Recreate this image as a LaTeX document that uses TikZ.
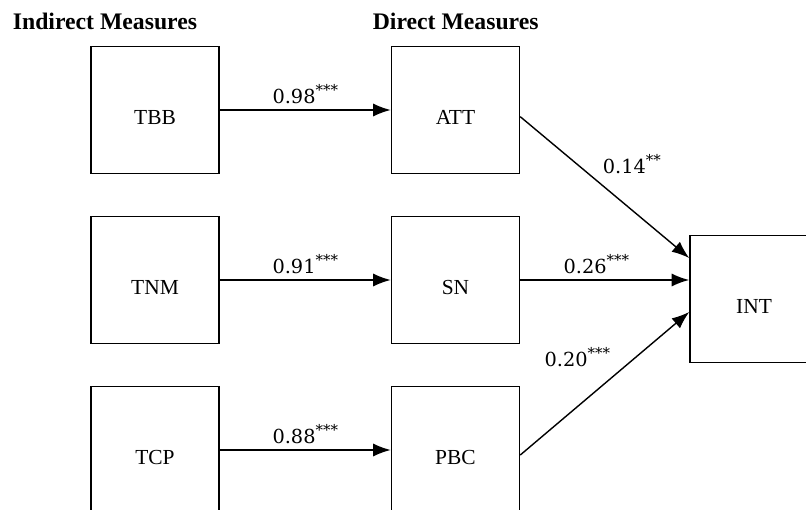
\documentclass[tikz,border=0pt]{standalone}
\usepackage{fontspec}
\setmainfont{Liberation Serif}
\newfontfamily\labfont{DejaVu Serif}
\usepackage{tikz}
\usetikzlibrary{arrows.meta}
\usetikzlibrary{calc}
\newcommand{\stars}[1]{\raisebox{0.42em}{\fontsize{8.5}{9}\selectfont #1}}
\tikzstyle{measure} = [draw,line width=0.9pt,minimum width=2.56cm,minimum height=2.54cm,text height=17pt,text depth=0pt,inner sep=0pt,font=\fontsize{12.2}{14}\selectfont]
\tikzstyle{title} = [anchor=base west,inner sep=0pt,font=\fontsize{13.5}{15}\selectfont\bfseries]
\tikzstyle{coef} = [font=\fontsize{11}{13}\selectfont\labfont]
\tikzstyle{path} = [->,line width=0.8pt]

\begin{document}
\begin{tikzpicture}[x=0.02cm,y=-0.02cm,>={Latex[length=3.5mm,width=2.6mm]}]
    \clip (0,0) rectangle (806,510);

% Headings
    \node[title] at (12.5,29.3) (indirect) {Indirect Measures};
    \node[title] at (372.5,29.3) (direct) {Direct Measures};

% Draw blocks
    \def\dx{300.5}
    \def\dy{170}
    \node[measure] at (155,110) (tbb) {TBB};
    \node[measure] at (155,110+\dy) (tnm) {TNM};
    \node[measure] at (155,110+2*\dy) (tcp) {TCP};
    \node[measure] at (155+\dx,110) (att) {ATT};
    \node[measure] at (155+\dx,110+\dy) (sn) {SN};
    \node[measure] at (155+\dx,110+2*\dy) (pbc) {PBC};
    \node[measure] at (754,299) (int) {INT};

% Indirect to direct
    \draw[path] (tbb) -- node[coef,above] {0.98\stars{***}} (att);
    \draw[path] (tnm) -- node[coef,above] {0.91\stars{***}} (sn);
    \draw[path] (tcp) -- node[coef,above] {0.88\stars{***}} (pbc);

% Direct to intention
    \draw[path] ($(att.east)+(0,6.7)$) -- node[coef,pos=0.45,above right] {0.14\stars{**}} ($(int.west)+(0,-41)$);
    \draw[path] (sn.east) -- node[coef,pos=0.45,above] {0.26\stars{***}} ($(int.west)+(0,-19)$);
    \draw[path] ($(pbc.east)+(0,5)$) -- node[coef,pos=0.57,above left] {0.20\stars{***}} ($(int.west)+(0,13)$);

\end{tikzpicture}
\end{document}
